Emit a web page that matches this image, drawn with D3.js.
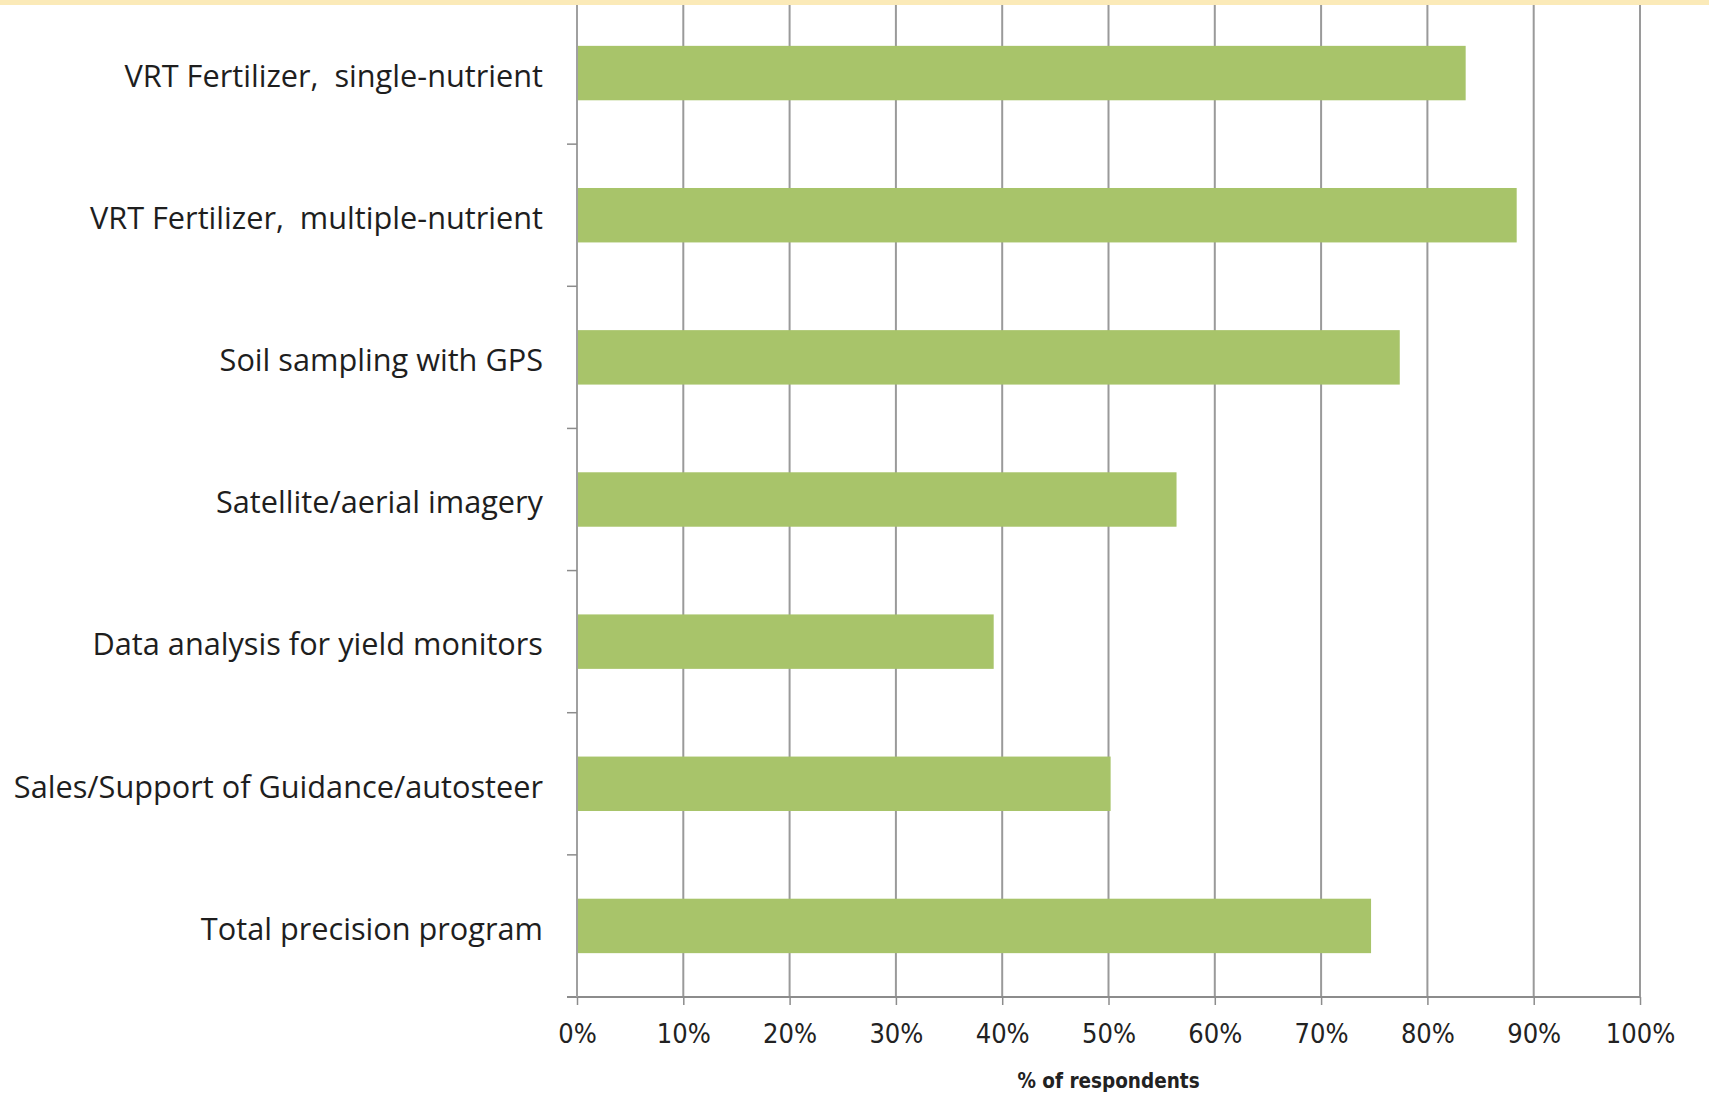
<!DOCTYPE html>
<html>
<head>
<meta charset="utf-8">
<script src="https://cdn.jsdelivr.net/npm/d3@7"></script>
<style>
  body { margin: 0; background: #fff; }
  svg { display: block; }
</style>
</head>
<body>
<svg></svg>
<script>
// values (share of respondents, 0-1)
const categories = [
  "VRT Fertilizer,  single-nutrient",
  "VRT Fertilizer,  multiple-nutrient",
  "Soil sampling with GPS",
  "Satellite/aerial imagery",
  "Data analysis for yield monitors",
  "Sales/Support of Guidance/autosteer",
  "Total precision program"
];
const values = [0.836, 0.884, 0.774, 0.564, 0.392, 0.502, 0.747];
const xTicks = [0, 0.1, 0.2, 0.3, 0.4, 0.5, 0.6, 0.7, 0.8, 0.9, 1.0];
const xTitle = "% of respondents";

let width = 1709;
let height = 1105;
let plotLeft = 577;
let plotRight = 1640;
let plotTop = 2;
let plotBottom = 997;
let labelWidth = 530; // longest category label spans this many px

const svg = d3.select("svg")
  .attr("width", width)
  .attr("height", height);

// thin yellow strip along the top edge
svg.append("rect")
  .attr("x", 0).attr("y", 0)
  .attr("width", width).attr("height", 5)
  .attr("fill", "#fbeab8");

const xScale = d3.scaleLinear()
  .domain([0, 1])
  .range([plotLeft, plotRight]);

const yScale = d3.scaleBand()
  .domain(categories)
  .range([plotTop, plotBottom])
  .paddingInner(0.617)
  .paddingOuter(0.3085);

// vertical gridlines
svg.append("g")
  .selectAll("line")
  .data(xTicks.slice(1))
  .enter()
  .append("line")
  .attr("x1", (d) => xScale(d))
  .attr("x2", (d) => xScale(d))
  .attr("y1", 5)
  .attr("y2", plotBottom)
  .attr("stroke", "#9a9a9a")
  .attr("stroke-width", 2);

// bars
svg.append("g")
  .selectAll("rect")
  .data(values)
  .enter()
  .append("rect")
  .attr("x", xScale(0) + 1)
  .attr("y", (d, i) => yScale(categories[i]))
  .attr("width", (d) => xScale(d) - xScale(0) - 1)
  .attr("height", yScale.bandwidth())
  .attr("fill", "#a8c46a");

// x axis
const xAxis = d3.axisBottom(xScale)
  .tickValues(xTicks)
  .tickFormat(d3.format(".0%"))
  .tickSize(8)
  .tickSizeOuter(0)
  .tickPadding(19);

const gx = svg.append("g")
  .attr("id", "x-axis")
  .attr("transform", `translate(0, ${plotBottom})`)
  .call(xAxis);
gx.select(".domain").attr("stroke", "#8c8c8c").attr("stroke-width", 2)
  .attr("d", `M${plotLeft - 10},0H${plotRight}`);
gx.selectAll(".tick line").attr("stroke", "#8c8c8c").attr("stroke-width", 1.5);
gx.selectAll(".tick text")
  .attr("fill", "#222")
  .style("font-family", "'Liberation Sans Narrow', 'DejaVu Sans Condensed', sans-serif")
  .style("font-size", "27px");

// y axis: band boundaries get the tick marks, labels sit mid-band
const step = yScale.step();
const yAxis = d3.axisLeft(yScale).tickSize(0).tickPadding(34);
const gy = svg.append("g")
  .attr("id", "y-axis")
  .attr("transform", `translate(${plotLeft}, 0)`)
  .call(yAxis);
gy.select(".domain").attr("stroke", "#a0a0a0").attr("stroke-width", 2)
  .attr("d", `M0,5V${plotBottom}`);
const yLabels = gy.selectAll(".tick text")
  .attr("fill", "#1e1e1e")
  .attr("dy", "0.45em")
  .attr("xml:space", "preserve")
  .style("white-space", "pre")
  .style("font-family", "'Open Sans', Lato, sans-serif")
  .style("font-size", "28px");

// scale the label font so the longest label has the width seen in the picture
const longest = d3.max(yLabels.nodes(), (n) => n.getComputedTextLength());
yLabels.style("font-size", (28 * labelWidth / longest).toFixed(1) + "px");

gy.append("g")
  .selectAll("line")
  .data(d3.range(1, categories.length))
  .enter()
  .append("line")
  .attr("x1", -10)
  .attr("x2", 0)
  .attr("y1", (d) => plotTop + d * step)
  .attr("y2", (d) => plotTop + d * step)
  .attr("stroke", "#8c8c8c")
  .attr("stroke-width", 1.5);

// axis title
svg.append("text")
  .attr("x", (plotLeft + plotRight) / 2)
  .attr("y", 1088)
  .attr("text-anchor", "middle")
  .attr("fill", "#222")
  .style("font-family", "'Liberation Sans Narrow', 'DejaVu Sans Condensed', sans-serif")
  .style("font-weight", "bold")
  .style("font-size", "20.5px")
  .text(xTitle);
</script>
</body>
</html>
